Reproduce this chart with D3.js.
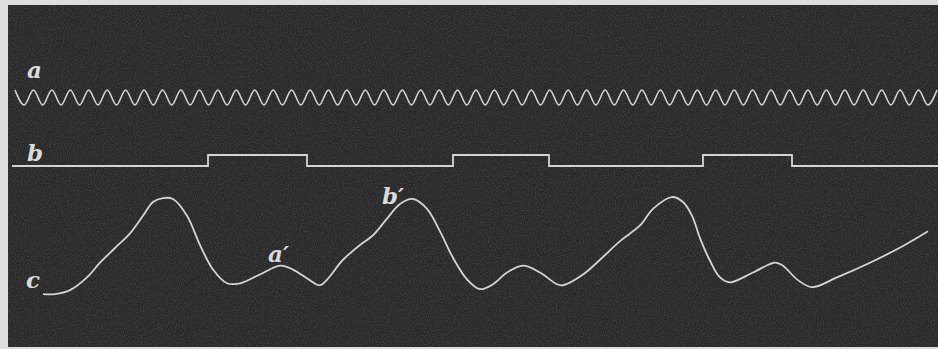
<!DOCTYPE html>
<html><head><meta charset="utf-8">
<script src="https://cdn.jsdelivr.net/npm/d3@7"></script>
<style>html,body{margin:0;padding:0;background:#dcdcdc;overflow:hidden}</style>
</head><body>
<svg id="chart" width="938" height="349"></svg>
<script>
// Trace a: tuning-fork time marks (alternating crest/trough, half-cycles)
const forkExtrema = [1,-1,1,-1,1,-1,1,-1,1,-1,1,-1,1,-1,1,-1,1,-1,1,-1,
  1,-1,1,-1,1,-1,1,-1,1,-1,1,-1,1,-1,1,-1,1,-1,1,-1,
  1,-1,1,-1,1,-1,1,-1,1,-1,1,-1,1,-1,1,-1,1,-1,1,-1,
  1,-1,1,-1,1,-1,1,-1,1,-1,1,-1,1,-1,1,-1,1,-1,1,-1,
  1,-1,1,-1,1,-1,1,-1,1,-1,1,-1,1,-1,1,-1,1,-1,1,-1,1];
// Trace b: signal (step) transitions
const signalTimes = [12, 208, 307, 453, 549, 703, 792, 938];
const signalStates = [0, 1, 0, 1, 0, 1, 0, 0];
// Trace c: recorded curve (time, height)
const curveTimes = [43,55,70,87,100,115,130,143,153,163,173,187,200,213,227,240,260,280,293,310,
  320,343,360,373,387,400,413,427,440,453,467,480,493,507,523,540,557,563,583,600,
  620,640,653,672,683,692,700,710,720,730,753,775,783,797,812,837,870,903,928];
const curveValues = [3,3,7,20,35,50,65,83,97,101,100,83,53,28,14,14,23,32,28,17,
  12,38,53,63,80,95,100,90,67,40,18,8,13,25,32,25,13,12,23,38,
  57,73,90,102,97,83,60,37,20,15,25,35,32,18,10,20,35,52,67];
const labels = [
  {t:"a", x:27, y:78},
  {t:"b", x:27, y:161},
  {t:"c", x:26, y:288},
  {t:"a′", x:268, y:262},
  {t:"b′", x:382, y:204}
];

const svg = d3.select("#chart");
const W = 938, H = 349;
const defs = svg.append("defs");
const f = defs.append("filter").attr("id","grain").attr("x",0).attr("y",0).attr("width","100%").attr("height","100%");
f.append("feTurbulence").attr("type","fractalNoise").attr("baseFrequency","0.85").attr("numOctaves",2).attr("seed",3).attr("result","n");
f.append("feColorMatrix").attr("in","n").attr("type","matrix")
 .attr("values","0 0 0 0 0.55  0 0 0 0 0.55  0 0 0 0 0.55  0.9 0 0 0 -0.38");

svg.append("rect").attr("x",0).attr("y",0).attr("width",W).attr("height",H).attr("fill","#dedede");
svg.append("rect").attr("x",8).attr("y",5).attr("width",W-8).attr("height",342).attr("fill","#292929");
svg.append("rect").attr("x",8).attr("y",5).attr("width",W-8).attr("height",342).attr("filter","url(#grain)").attr("opacity",0.45);

const stroke = "#d4d4d4";

// a
const xa = d3.scaleLinear().domain([0, forkExtrema.length-1]).range([15, 937]);
const ya = d3.scaleLinear().domain([-1, 1]).range([105, 90]);
svg.append("path").datum(forkExtrema)
  .attr("d", d3.line().x((d,i)=>xa(i)).y(d=>ya(d)).curve(d3.curveMonotoneX))
  .attr("fill","none").attr("stroke",stroke).attr("stroke-width",1.6);

// b
const xb = d3.scaleLinear().domain([0, 938]).range([0, 938]);
const yb = d3.scaleLinear().domain([0, 1]).range([166, 155]);
const sig = signalTimes.map((t,i)=>({t, s:signalStates[i]}));
svg.append("path").datum(sig)
  .attr("d", d3.line().x(d=>xb(d.t)).y(d=>yb(d.s)).curve(d3.curveStepAfter))
  .attr("fill","none").attr("stroke",stroke).attr("stroke-width",1.8);

// c
const yc = d3.scaleLinear().domain([0, 100]).range([297, 199]);
const cur = curveTimes.map((t,i)=>({t, v:curveValues[i]}));
svg.append("path").datum(cur)
  .attr("d", d3.line().x(d=>xb(d.t)).y(d=>yc(d.v)).curve(d3.curveCatmullRom.alpha(0.5)))
  .attr("fill","none").attr("stroke",stroke).attr("stroke-width",1.8);

svg.selectAll("text.lbl").data(labels).enter().append("text")
  .attr("class","lbl").attr("x",d=>d.x).attr("y",d=>d.y).text(d=>d.t)
  .attr("font-family","DejaVu Serif, Liberation Serif, serif").attr("font-style","italic")
  .attr("font-weight","bold")
  .attr("font-size",23).attr("fill","#dadada");
</script>
</body></html>
